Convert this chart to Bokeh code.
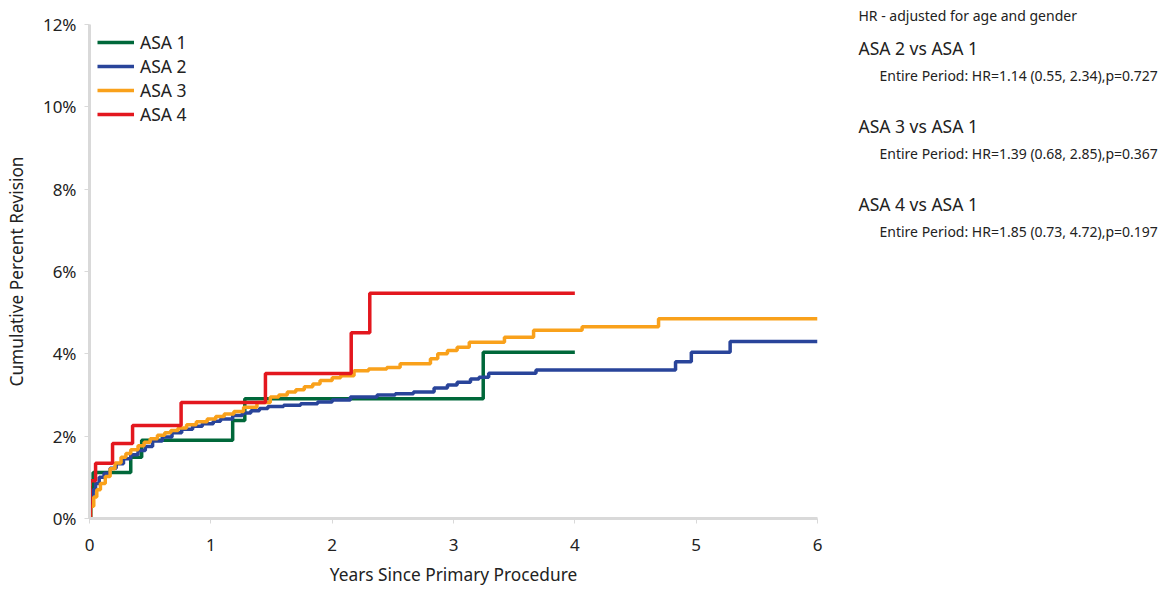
from bokeh.plotting import figure
from bokeh.models import Label, FixedTicker, Legend, LegendItem, Range1d
from bokeh.layouts import row
from bokeh.embed import file_html
from bokeh.resources import INLINE

# ---- data (years, cumulative percent revision) ----
asa1_t = [0, 0.01, 0.03, 0.34, 0.43, 1.18, 1.28, 3.245, 4.0]
asa1_y = [0, 0.75, 1.12, 1.49, 1.9, 2.38, 2.91, 4.04, 4.04]

asa2_t = [0, 0.01, 0.03, 0.05, 0.08, 0.12, 0.17, 0.22, 0.28, 0.34, 0.4, 0.46, 0.52, 0.6,
          0.68, 0.76, 0.85, 0.93, 1.02, 1.08, 1.18, 1.26, 1.33, 1.4, 1.47, 1.6, 1.74,
          1.88, 2.0, 2.15, 2.37, 2.52, 2.67, 2.84, 2.95, 3.03, 3.14, 3.21, 3.29, 3.68,
          4.83, 4.96, 5.28, 6.0]
asa2_y = [0, 0.4, 0.7, 0.85, 1.0, 1.1, 1.22, 1.33, 1.45, 1.55, 1.65, 1.75, 1.88, 1.98,
          2.08, 2.17, 2.24, 2.3, 2.36, 2.42, 2.5, 2.56, 2.62, 2.67, 2.72, 2.75, 2.79,
          2.83, 2.88, 2.95, 3.0, 3.03, 3.07, 3.17, 3.24, 3.31, 3.39, 3.43, 3.53, 3.61,
          3.81, 4.04, 4.3, 4.3]

asa3_t = [0, 0.01, 0.035, 0.06, 0.09, 0.13, 0.17, 0.21, 0.26, 0.3, 0.34, 0.4, 0.45, 0.5,
          0.56, 0.62, 0.67, 0.73, 0.8, 0.88, 0.97, 1.04, 1.11, 1.19, 1.27, 1.38, 1.49,
          1.56, 1.63, 1.7, 1.77, 1.84, 1.9, 2.0, 2.07, 2.18, 2.3, 2.45, 2.56, 2.81, 2.87,
          2.95, 3.03, 3.13, 3.42, 3.66, 4.06, 4.69, 6.0]
asa3_y = [0, 0.3, 0.52, 0.7, 0.85, 1.02, 1.21, 1.35, 1.49, 1.58, 1.67, 1.77, 1.85, 1.94,
          2.02, 2.08, 2.14, 2.2, 2.28, 2.35, 2.42, 2.48, 2.54, 2.6, 2.7, 2.82, 2.95,
          3.0, 3.07, 3.13, 3.2, 3.27, 3.35, 3.42, 3.47, 3.59, 3.63, 3.67, 3.76, 3.88, 4.0,
          4.08, 4.16, 4.28, 4.4, 4.57, 4.66, 4.85, 4.85]

asa4_t = [0, 0.005, 0.05, 0.19, 0.355, 0.755, 1.45, 2.157, 2.31, 4.0]
asa4_y = [0, 0.92, 1.34, 1.82, 2.26, 2.82, 3.52, 4.51, 5.47, 5.47]

series_names = ["ASA 1", "ASA 2", "ASA 3", "ASA 4"]
series_colors = ["#00683a", "#29449a", "#f9a11b", "#e3171e"]

x_ticks = [0, 1, 2, 3, 4, 5, 6]
y_ticks = [0, 2, 4, 6, 8, 10, 12]
y_tick_labels = ["0%", "2%", "4%", "6%", "8%", "10%", "12%"]

hr_header = "HR - adjusted for age and gender"
hr_titles = ["ASA 2 vs ASA 1", "ASA 3 vs ASA 1", "ASA 4 vs ASA 1"]
hr_texts = ["Entire Period: HR=1.14 (0.55, 2.34),p=0.727",
            "Entire Period: HR=1.39 (0.68, 2.85),p=0.367",
            "Entire Period: HR=1.85 (0.73, 4.72),p=0.197"]

FONT = "Noto Sans"
TXT = "#222222"
H = 588
W1, W2 = 840, 326
L, R, T, B = 89, 23, 24, 70
FH = H - T - B

p = figure(width=W1, height=H, output_backend="svg", toolbar_location=None,
           x_range=Range1d(0, 6), y_range=Range1d(0, 12),
           min_border_left=L, min_border_right=R, min_border_top=T, min_border_bottom=B)
p.outline_line_color = None
p.xgrid.grid_line_color = None
p.ygrid.grid_line_color = None

for ax in (p.xaxis[0], p.yaxis[0]):
    ax.axis_line_color = "#d9d9d9"
    ax.axis_line_width = 3
    ax.major_tick_line_color = "#d9d9d9"
    ax.major_tick_in = 0
    ax.major_tick_out = 5
    ax.minor_tick_line_color = None
    ax.major_label_text_font = FONT
    ax.major_label_text_font_size = "17px"
    ax.major_label_text_color = TXT
    ax.axis_label_text_font = FONT
    ax.axis_label_text_font_size = "17.3px"
    ax.axis_label_text_font_style = "normal"
    ax.axis_label_text_color = TXT

p.xaxis.ticker = FixedTicker(ticks=x_ticks)
p.yaxis.ticker = FixedTicker(ticks=y_ticks)
p.yaxis.major_label_overrides = {t: s for t, s in zip(y_ticks, y_tick_labels)}
p.xaxis.axis_label = "Years Since Primary Procedure"
p.yaxis.axis_label = "Cumulative Percent Revision"
p.xaxis.major_label_standoff = 15
p.xaxis.axis_label_standoff = 9
p.yaxis.major_label_standoff = 8
p.yaxis.axis_label_standoff = 12

data = [(asa1_t, asa1_y), (asa2_t, asa2_y), (asa3_t, asa3_y), (asa4_t, asa4_y)]
items = []
for (t, y), name, col in zip(data, series_names, series_colors):
    r = p.step(x=t, y=y, mode="after", line_color=col, line_width=3.5)
    items.append(LegendItem(label=name, renderers=[r]))

legend = Legend(items=items, location=(8, FH - 102))
legend.border_line_color = None
legend.background_fill_alpha = 0
legend.label_text_font = FONT
legend.label_text_font_size = "17.5px"
legend.label_text_color = TXT
legend.glyph_width = 37
legend.glyph_height = 22
legend.label_height = 22
legend.spacing = 0
legend.margin = 0
legend.padding = 0
legend.label_standoff = 6
p.add_layout(legend)

# ---- right-hand annotation panel (frame aligned with main plot: page px 24..518) ----
p2 = figure(width=W2, height=H, output_backend="svg", toolbar_location=None,
            x_range=Range1d(W1, W1 + W2), y_range=Range1d(T + FH, T),
            x_axis_type=None, y_axis_type=None,
            min_border_left=0, min_border_right=0, min_border_top=T, min_border_bottom=B,
            title=hr_header)
p2.outline_line_color = None
p2.xgrid.grid_line_color = None
p2.ygrid.grid_line_color = None
p2.title.text_font = FONT
p2.title.text_font_size = "14px"
p2.title.text_font_style = "normal"
p2.title.text_color = TXT
p2.title.offset = 18
p2.title.standoff = 0

title_py = [47, 125, 203]
for title, txt, py in zip(hr_titles, hr_texts, title_py):
    p2.add_layout(Label(x=858, y=py, text=title, text_font=FONT,
                        text_font_size="17.5px", text_color=TXT, text_baseline="middle"))
    p2.add_layout(Label(x=879, y=py + 28, text=txt, text_font=FONT,
                        text_font_size="14px", text_color=TXT, text_baseline="middle"))

layout = row(p, p2)
open("out.html", "w").write(file_html(layout, INLINE))
